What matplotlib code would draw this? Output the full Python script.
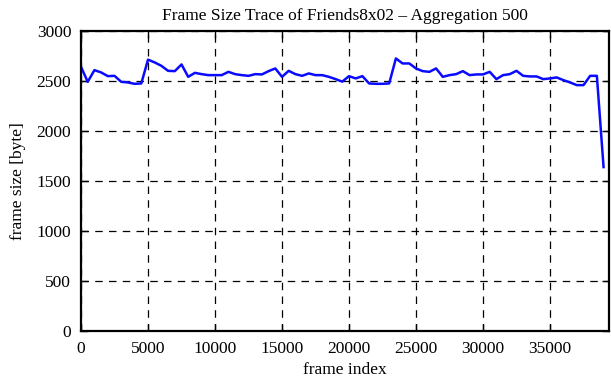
import numpy as np
import matplotlib
matplotlib.use("Agg")
import matplotlib.pyplot as plt

plt.rcParams['font.family'] = ['Liberation Serif', 'DejaVu Serif']

# frame index (aggregation window start) and mean frame size [byte]
frames = [0, 500, 1000, 1500, 2000, 2500, 3000, 3500, 4000, 4500,
          5000, 5500, 6000, 6500, 7000, 7500, 8000, 8500, 9000, 9500,
          10000, 10500, 11000, 11500, 12000, 12500, 13000, 13500, 14000, 14500,
          15000, 15500, 16000, 16500, 17000, 17500, 18000, 18500, 19000, 19500,
          20000, 20500, 21000, 21500, 22000, 22500, 23000, 23500, 24000, 24500,
          25000, 25500, 26000, 26500, 27000, 27500, 28000, 28500, 29000, 29500,
          30000, 30500, 31000, 31500, 32000, 32500, 33000, 33500, 34000, 34500,
          35000, 35500, 36000, 36500, 37000, 37500, 38000, 38500, 39000]
sizes = [2643, 2493, 2610, 2587, 2550, 2553, 2493, 2487, 2473, 2477,
         2715, 2687, 2653, 2603, 2600, 2667, 2543, 2583, 2570, 2560,
         2560, 2560, 2593, 2570, 2560, 2553, 2570, 2567, 2600, 2627,
         2543, 2603, 2570, 2553, 2577, 2560, 2560, 2543, 2520, 2495,
         2550, 2527, 2550, 2477, 2473, 2473, 2477, 2727, 2677, 2677,
         2627, 2600, 2593, 2627, 2543, 2560, 2570, 2600, 2560, 2567,
         2567, 2593, 2520, 2560, 2570, 2603, 2553, 2547, 2547, 2520,
         2527, 2537, 2510, 2487, 2460, 2460, 2553, 2553, 1640]

xticks = [0, 5000, 10000, 15000, 20000, 25000, 30000, 35000]
yticks = [0, 500, 1000, 1500, 2000, 2500, 3000]

fig = plt.figure(figsize=(6.11, 3.8), dpi=100)
ax = fig.add_axes([0.1326, 0.129, 0.864, 0.789])

ax.plot(frames, sizes, color='#0a0aff', lw=1.8)

ax.set_xlim(0, 39400)
ax.set_ylim(0, 3000)
ax.set_xticks(xticks)
ax.set_yticks(yticks)
ax.grid(True, color='black', linestyle=(0, (6, 5)), lw=0.9)
ax.tick_params(direction='in', length=5, width=1, top=True, right=True,
               labelsize=12.5, pad=7, colors='black')
for s in ax.spines.values():
    s.set_linewidth(1.6)

ax.set_title('Frame Size Trace of Friends8x02 \u2013 Aggregation 500', fontsize=12.5, pad=8)
ax.set_xlabel('frame index', fontsize=12.5, labelpad=4)
ax.set_ylabel('frame size [byte]', fontsize=12.5, labelpad=8)

fig.savefig('out.png', dpi=100)
